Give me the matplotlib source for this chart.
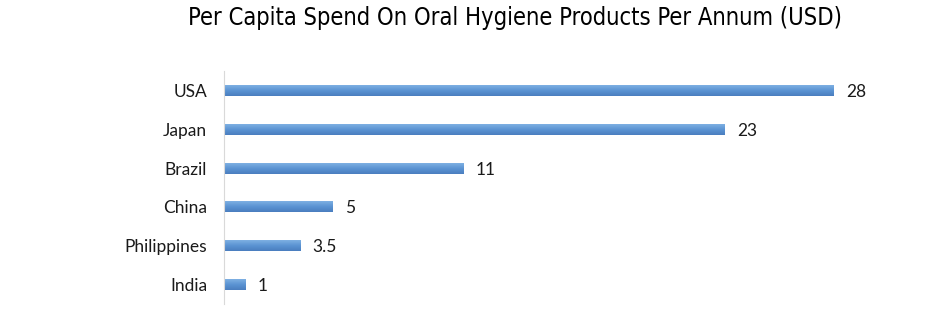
import numpy as np
import matplotlib.pyplot as plt
from matplotlib.colors import LinearSegmentedColormap

# Data
countries = ["USA", "Japan", "Brazil", "China", "Philippines", "India"]
spend = [28, 23, 11, 5, 3.5, 1]
value_labels = ["28", "23", "11", "5", "3.5", "1"]

fig = plt.figure(figsize=(9.4, 3.31), dpi=100)
ax = fig.add_axes([0.238, 0.082, 0.695, 0.703])

y = np.arange(len(countries))[::-1]
bars = ax.barh(y, spend, height=0.28, color="none", edgecolor="none")

# vertical gradient inside each bar
cmap = LinearSegmentedColormap.from_list("bar", ["#7eb0e3", "#5b93d3", "#4a7ebf"])
grad = np.linspace(0, 1, 64).reshape(-1, 1)
for b in bars:
    x0, y0 = b.get_x(), b.get_y()
    im = ax.imshow(grad, cmap=cmap, aspect="auto", origin="upper",
                   extent=[x0, x0 + b.get_width(), y0, y0 + b.get_height()],
                   zorder=2)
    im.set_clip_path(b)

for yi, v, lab in zip(y, spend, value_labels):
    ax.annotate(lab, (v, yi), xytext=(9, -1), textcoords="offset points",
                va="center", ha="left", fontsize=12.5, family="Lato", color="#1a1a1a")

ax.set_xlim(0, 30)
ax.set_ylim(-0.5, 5.5)
ax.set_yticks(y)
ax.set_yticklabels(countries, fontsize=12.5, family="Lato", color="#1a1a1a")
ax.tick_params(axis="y", length=0, pad=12)
ax.set_xticks([])
for s in ["top", "right", "bottom"]:
    ax.spines[s].set_visible(False)
ax.spines["left"].set_color("#d9d9d9")

fig.text(0.548, 0.945, "Per Capita Spend On Oral Hygiene Products Per Annum (USD)",
         ha="center", va="center", fontsize=17, family="DejaVu Sans",
         stretch="condensed", weight="medium")

fig.savefig("out.png", dpi=100)
